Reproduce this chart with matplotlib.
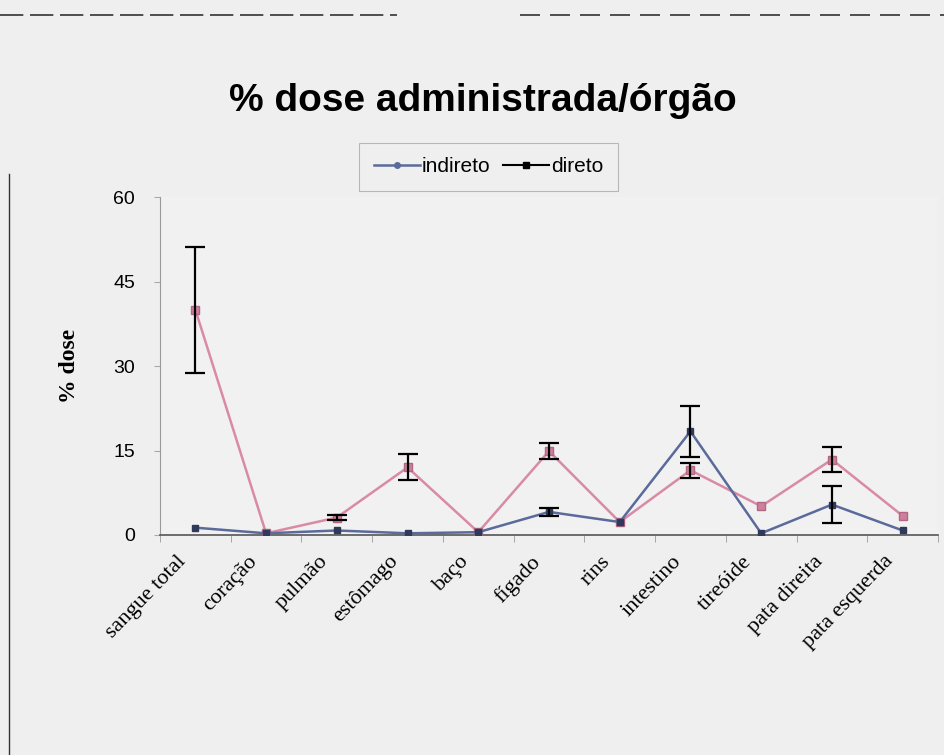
import matplotlib
matplotlib.use("Agg")
import matplotlib.pyplot as plt
from matplotlib.lines import Line2D
from matplotlib.transforms import ScaledTranslation
import numpy as np

categories = ["sangue total", "coração", "pulmão", "estômago", "baço", "fígado",
              "rins", "intestino", "tireóide", "pata direita", "pata esquerda"]
indireto = [1.3, 0.3, 0.8, 0.3, 0.5, 4.1, 2.3, 18.4, 0.3, 5.4, 0.8]
indireto_err = [0.0, 0.0, 0.0, 0.0, 0.0, 0.7, 0.0, 4.5, 0.0, 3.3, 0.0]
direto = [40.0, 0.3, 3.1, 12.0, 0.5, 14.9, 2.3, 11.5, 5.1, 13.4, 3.4]
direto_err = [11.2, 0.0, 0.5, 2.3, 0.0, 1.4, 0.0, 1.3, 0.0, 2.2, 0.0]
yticks = [0, 15, 30, 45, 60]

bg = "#efefef"
fig = plt.figure(figsize=(9.45, 7.55), dpi=100, facecolor=bg)
ax = fig.add_axes([0.1693, 0.2914, 0.8233, 0.4476], facecolor="#f1f1f1")

x = np.arange(len(categories))
pink = "#d98aa6"
slate = "#5a6a9a"

ax.plot(x, direto, color=pink, lw=1.8, marker="s", ms=6,
        mfc="#cc809c", mec="#b46685", zorder=3)
ax.plot(x, indireto, color=slate, lw=1.8, marker="s", ms=5,
        mfc="#2f3a5a", mec="#2f3a5a", zorder=4)

# error bars only where a deviation was reported
for vals, errs in ((direto, direto_err), (indireto, indireto_err)):
    idx = [i for i, e in enumerate(errs) if e > 0]
    ax.errorbar([x[i] for i in idx], [vals[i] for i in idx],
                yerr=[errs[i] for i in idx], fmt="none", ecolor="black",
                elinewidth=1.6, capsize=7, capthick=1.6, zorder=5)

ax.set_xlim(-0.5, len(categories) - 0.5)
ax.set_ylim(0, 60)
ax.set_yticks(yticks)
ax.set_yticklabels([str(v) for v in yticks], fontsize=14, family="Liberation Sans")
ax.set_xticks(x)
ax.set_xticklabels([])
ax.set_xticks(np.arange(-0.5, len(categories)), minor=True)
ax.tick_params(axis="x", which="major", length=0)
ax.tick_params(axis="x", which="minor", length=5, color="#999999", direction="out")
ax.tick_params(axis="y", length=4, color="#aaaaaa", pad=14)

# slanted category names, set slightly left of each category position
label_tr = ax.get_xaxis_transform() + ScaledTranslation(-0.19, -0.17, fig.dpi_scale_trans)
for xi, name in zip(x, categories):
    ax.text(xi, 0, name, transform=label_tr, rotation=46, ha="right", va="top",
            rotation_mode="anchor", fontsize=16, family="Liberation Serif",
            clip_on=False)

for s in ["top", "right"]:
    ax.spines[s].set_visible(False)
ax.spines["left"].set_color("#999999")
ax.spines["left"].set_linewidth(0.8)
ax.spines["bottom"].set_color("#555555")
ax.spines["bottom"].set_linewidth(1.2)

ax.set_ylabel("% dose", fontsize=17, fontweight="bold", family="Liberation Serif",
              labelpad=24)

fig.text(0.511, 0.866, "% dose administrada/órgão", ha="center", va="center",
         fontsize=28, fontweight="bold", family="Liberation Sans")

handles = [
    Line2D([0], [0], color=slate, lw=1.8, marker="o", ms=4, mfc=slate, mec=slate),
    Line2D([0], [0], color="black", lw=1.5, marker="s", ms=4, mfc="black", mec="black"),
]
leg = fig.legend(handles, ["indireto", "direto"], loc="center",
                 bbox_to_anchor=(0.517, 0.779), ncol=2, frameon=True,
                 handlelength=2.2, handletextpad=0.1,
                 columnspacing=0.6, borderpad=0.7,
                 prop={"family": "Liberation Sans", "size": 15})
leg.get_frame().set_facecolor(bg)
leg.get_frame().set_edgecolor("#aaaaaa")
leg.get_frame().set_linewidth(0.8)
leg.get_frame().set_boxstyle("square", pad=0)

# scanned border fragments
fig.add_artist(Line2D([0.0, 0.42], [0.980, 0.980], color="#333333", lw=1.2,
                      ls=(0, (14, 4)), transform=fig.transFigure))
fig.add_artist(Line2D([0.55, 1.0], [0.980, 0.980], color="#333333", lw=1.2,
                      ls=(0, (12, 6)), transform=fig.transFigure))
fig.add_artist(Line2D([0.009, 0.009], [0.0, 0.77], color="#333333", lw=1.0,
                      transform=fig.transFigure))

fig.savefig("out.png", dpi=100, facecolor=bg)
